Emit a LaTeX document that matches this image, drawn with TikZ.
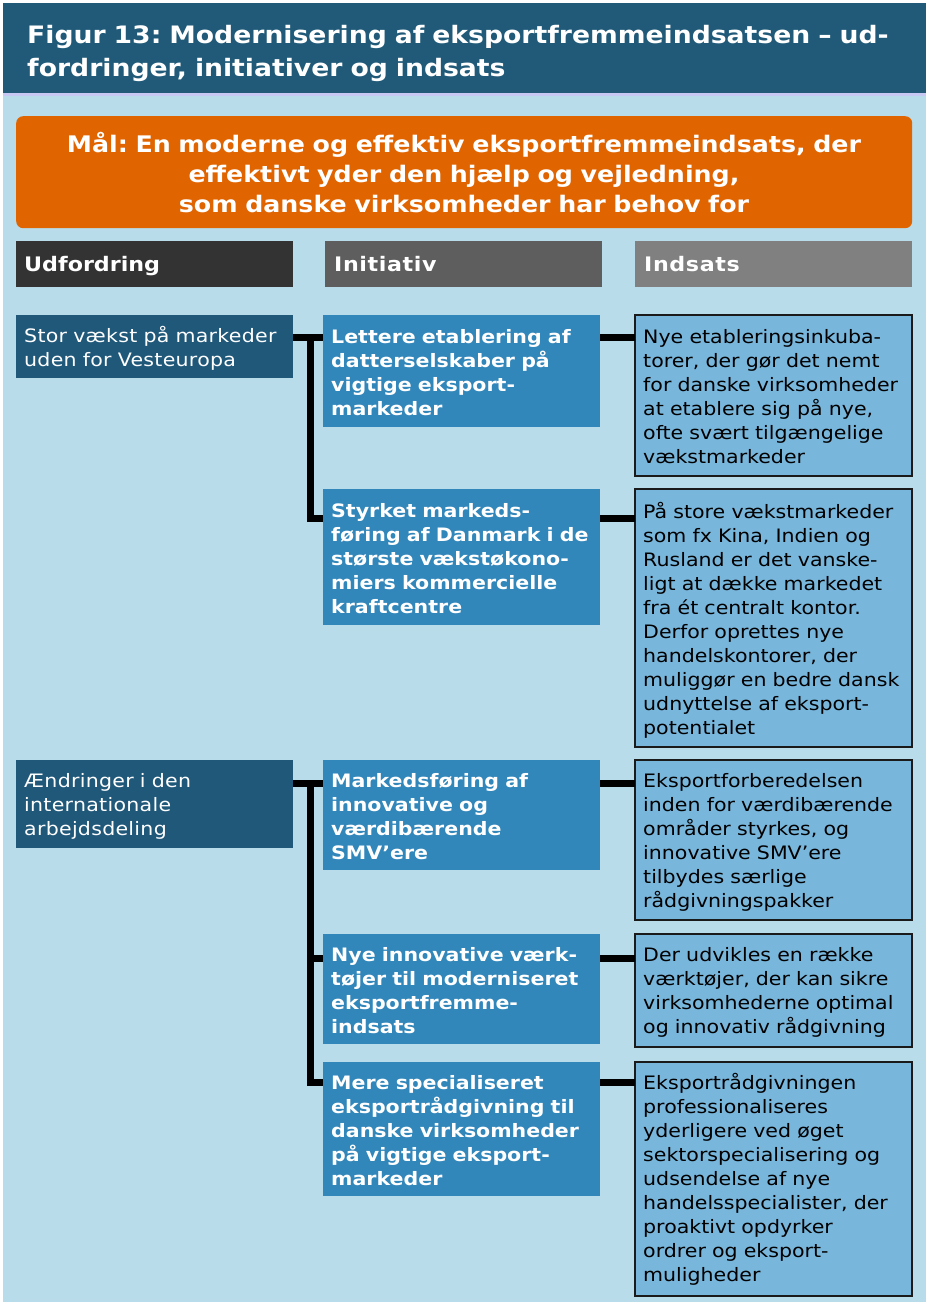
\documentclass[tikz,border=0pt]{standalone}
\usepackage{fontspec}
\setmainfont{DejaVu Sans}[FakeStretch=1.11]
\frenchspacing
\definecolor{titlec}{HTML}{205A78}
\definecolor{bgc}{HTML}{B8DCEA}
\definecolor{lavc}{HTML}{C8C8F5}
\definecolor{goalc}{HTML}{E06400}
\definecolor{hAc}{HTML}{333333}
\definecolor{hBc}{HTML}{5E5E5E}
\definecolor{hCc}{HTML}{808080}
\definecolor{chalc}{HTML}{20587A}
\definecolor{initc}{HTML}{3186BA}
\definecolor{indc}{HTML}{78B6DC}
\definecolor{bordc}{HTML}{1A1A1A}
\tikzset{
  boxbase/.style={anchor=north west, minimum width=277pt, inner sep=0pt, outer sep=0pt},
  chalbox/.style={boxbase, fill=chalc},
  initbox/.style={boxbase, fill=initc},
  indbox/.style={boxbase, fill=indc, draw=bordc, line width=1.6pt},
  headbox/.style={boxbase, minimum height=46pt},
  btext/.style={anchor=base west, inner sep=0pt, align=left, text width=275pt, font=\fontsize{18.5}{24}\selectfont},
  chaltext/.style={btext, text=white, font=\fontsize{18.5}{24}\selectfont\addfontfeatures{LetterSpace=1.5}},
  inittext/.style={btext, text=white, font=\fontsize{18.5}{24}\selectfont\bfseries},
  indtext/.style={btext, text=black},
  headtext/.style={anchor=base west, inner sep=0pt, text=white, font=\fontsize{20}{24}\selectfont\bfseries},
  conn/.style={line width=7pt, black}
}
\begin{document}
\begin{tikzpicture}[x=1pt, y=-1pt]
\useasboundingbox (0,0) rectangle (930,1304);
% background
\fill[white] (0,0) rectangle (930,1304);
\fill[bgc] (3,96) rectangle (926,1302);
\fill[titlec] (3,3) rectangle (926,93);
\fill[lavc] (3,93) rectangle (926,96);
\node[anchor=base west, inner sep=0pt, text=white, align=left, text width=895pt, font=\fontsize{24}{33}\selectfont\bfseries] (title) at (27,43)
  {Figur 13: Modernisering af eksportfremmeindsatsen – ud-\\fordringer, initiativer og indsats};
% goal
\node[anchor=north west, minimum width=896pt, minimum height=112pt, inner sep=0pt, fill=goalc, rounded corners=7pt] (goal) at (16,116) {};
\node[anchor=base, inner sep=0pt, text=white, align=center, text width=890pt, font=\fontsize{22.8}{30}\selectfont\bfseries] (goaltext) at (464,152)
  {Mål: En moderne og effektiv eksportfremmeindsats, der\\effektivt yder den hjælp og vejledning,\\som danske virksomheder har behov for};
% headers
\node[headbox, fill=hAc] (hA) at (16,241) {};
\node[headbox, fill=hBc] (hB) at (325,241) {};
\node[headbox, fill=hCc] (hC) at (635,241) {};
\node[headtext] (hAt) at (24,271) {Udfordring};
\node[headtext] (hBt) at (334,271) {\addfontfeatures{LetterSpace=3}Initiativ};
\node[headtext] (hCt) at (644,271) {\addfontfeatures{LetterSpace=3}Indsats};
% group 1 boxes
\node[chalbox, minimum height=63pt] (c1) at (16,315) {};
\node[initbox, minimum height=112pt] (i1) at (323,315) {};
\node[initbox, minimum height=136pt] (i2) at (323,489) {};
\node[indbox, minimum height=161pt] (d1) at (635,315) {};
\node[indbox, minimum height=258pt] (d2) at (635,489) {};
% group 2 boxes
\node[chalbox, minimum height=88pt] (c2) at (16,760) {};
\node[initbox, minimum height=110pt] (i3) at (323,760) {};
\node[initbox, minimum height=110pt] (i4) at (323,934) {};
\node[initbox, minimum height=134pt] (i5) at (323,1062) {};
\node[indbox, minimum height=160pt] (d3) at (635,760) {};
\node[indbox, minimum height=113pt] (d4) at (635,934) {};
\node[indbox, minimum height=234pt] (d5) at (635,1062) {};
% texts
\node[chaltext] (c1t) at (24,342) {Stor vækst på markeder\\uden for Vesteuropa};
\node[inittext] (i1t) at (331,343) {Lettere etablering af\\datterselskaber på\\vigtige eksport-\\markeder};
\node[indtext] (d1t) at (643,343) {Nye etableringsinkuba-\\torer, der gør det nemt\\for danske virksomheder\\at etablere sig på nye,\\ofte svært tilgængelige\\vækstmarkeder};
\node[inittext] (i2t) at (331,517) {Styrket markeds-\\føring af Danmark i de\\største vækstøkono-\\miers kommercielle\\kraftcentre};
\node[indtext] (d2t) at (643,518) {På store vækstmarkeder\\som fx Kina, Indien og\\Rusland er det vanske-\\ligt at dække markedet\\fra ét centralt kontor.\\Derfor oprettes nye\\handelskontorer, der\\muliggør en bedre dansk\\udnyttelse af eksport-\\potentialet};
\node[chaltext] (c2t) at (24,787) {Ændringer i den\\internationale\\arbejdsdeling};
\node[inittext] (i3t) at (331,787) {Markedsføring af\\innovative og\\værdibærende\\SMV’ere};
\node[indtext] (d3t) at (643,787) {Eksportforberedelsen\\inden for værdibærende\\områder styrkes, og\\innovative SMV’ere\\tilbydes særlige\\rådgivningspakker};
\node[inittext] (i4t) at (331,961) {Nye innovative værk-\\tøjer til moderniseret\\eksportfremme-\\indsats};
\node[indtext] (d4t) at (643,961) {Der udvikles en række\\værktøjer, der kan sikre\\virksomhederne optimal\\og innovativ rådgivning};
\node[inittext] (i5t) at (331,1089) {Mere specialiseret\\eksportrådgivning til\\danske virksomheder\\på vigtige eksport-\\markeder};
\node[indtext] (d5t) at (643,1089) {Eksportrådgivningen\\professionaliseres\\yderligere ved øget\\sektorspecialisering og\\udsendelse af nye\\handelsspecialister, der\\proaktivt opdyrker\\ordrer og eksport-\\muligheder};
% connectors group 1
\coordinate (j1) at (310,337);
\draw[conn] ([yshift=-22pt]c1.north east) -- ([yshift=-22pt]i1.north west);
\draw[conn] ([yshift=-22pt]i1.north east) -- ([yshift=-22pt]d1.north west);
\draw[conn] (j1) |- ([yshift=-29pt]i2.north west);
\draw[conn] ([yshift=-29pt]i2.north east) -- ([yshift=-29pt]d2.north west);
% connectors group 2
\coordinate (j2) at (310,783);
\draw[conn] ([yshift=-23pt]c2.north east) -- ([yshift=-23pt]i3.north west);
\draw[conn] ([yshift=-23pt]i3.north east) -- ([yshift=-23pt]d3.north west);
\draw[conn] (j2) |- ([yshift=-24pt]i4.north west);
\draw[conn] (j2) |- ([yshift=-20pt]i5.north west);
\draw[conn] ([yshift=-24pt]i4.north east) -- ([yshift=-24pt]d4.north west);
\draw[conn] ([yshift=-20pt]i5.north east) -- ([yshift=-20pt]d5.north west);
\end{tikzpicture}
\end{document}
